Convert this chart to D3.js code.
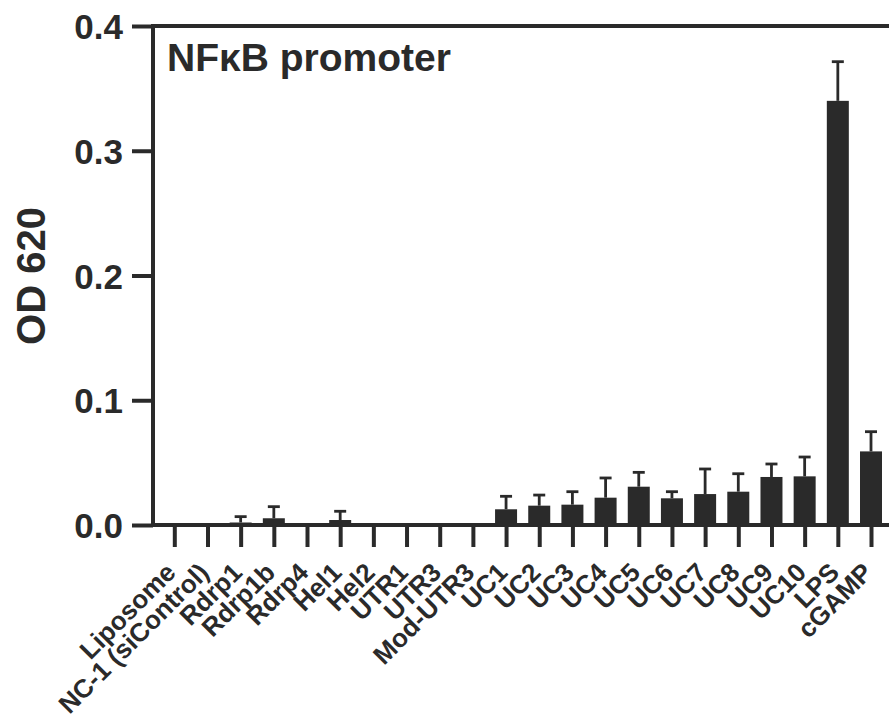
<html>
<head>
<style>
  body { margin: 0; background: #fff; }
  svg { position: absolute; top: 0; left: 0; font-family: "Liberation Sans", Arial, sans-serif; }
  .bar { fill: #2a2a2a; }
  .err { stroke: #2a2a2a; stroke-width: 2.8px; }
  .axisline { stroke: #2a2a2a; stroke-width: 4px; }
</style>
<script src="https://cdnjs.cloudflare.com/ajax/libs/d3/7.8.5/d3.min.js"></script>
</head>
<body>
<svg width="889" height="721"></svg>
<script>
// data
var categories = ["Liposome", "NC-1 (siControl)", "Rdrp1", "Rdrp1b", "Rdrp4", "Hel1", "Hel2",
  "UTR1", "UTR3", "Mod-UTR3", "UC1", "UC2", "UC3", "UC4", "UC5", "UC6", "UC7", "UC8",
  "UC9", "UC10", "LPS", "cGAMP"];
var means = [0, 0, 0.002, 0.0054, 0, 0.004, 0, 0, 0, 0, 0.0126, 0.0155, 0.0163, 0.0219,
  0.0307, 0.0214, 0.0248, 0.0267, 0.0385, 0.039, 0.34, 0.059];
var errors = [0, 0, 0.0047, 0.0093, 0, 0.007, 0, 0, 0, 0, 0.0104, 0.0085, 0.0104, 0.0158,
  0.0115, 0.0053, 0.0201, 0.0144, 0.0104, 0.0155, 0.0314, 0.0158];
var yTicks = [0, 0.1, 0.2, 0.3, 0.4];
var title = "NF\u03BAB promoter";
var yTitle = "OD 620";

var svg = d3.select("svg"),
    width = +svg.attr("width"),
    height = +svg.attr("height"),
    ink = "#2a2a2a";

var axisX = 153, baseY = 525, topY = 26;

var y = d3.scaleLinear().domain([0, 0.4]).range([baseY, topY]);
var x = d3.scalePoint().domain(categories).range([174.3, 871]);
var barW = 22, capW = 12;

var data = categories.map(function(c, i) { return {cat: c, mean: means[i], err: errors[i]}; });

// bars
svg.append("g").selectAll(".bar").data(data).enter().append("rect")
  .attr("class", "bar")
  .attr("x", function(d) { return x(d.cat) - barW / 2; })
  .attr("width", barW)
  .attr("y", function(d) { return y(d.mean); })
  .attr("height", function(d) { return baseY - y(d.mean); });

// error bars (upper only)
var eb = svg.append("g").selectAll(".eb").data(data.filter(function(d) { return d.err > 0; })).enter().append("g");
eb.append("line").attr("class", "err")
  .attr("x1", function(d) { return x(d.cat); })
  .attr("x2", function(d) { return x(d.cat); })
  .attr("y1", function(d) { return y(d.mean); })
  .attr("y2", function(d) { return y(d.mean + d.err); });
eb.append("line").attr("class", "err")
  .attr("x1", function(d) { return x(d.cat) - capW / 2; })
  .attr("x2", function(d) { return x(d.cat) + capW / 2; })
  .attr("y1", function(d) { return y(d.mean + d.err); })
  .attr("y2", function(d) { return y(d.mean + d.err); });

// y axis
var yAxis = d3.axisLeft(y).tickValues(yTicks).tickFormat(d3.format(".1f")).tickSize(21).tickPadding(9);
var gy = svg.append("g").attr("transform", "translate(" + axisX + ",0)").call(yAxis);
gy.select(".domain").remove();
gy.selectAll(".tick line").attr("stroke", ink).attr("stroke-width", 4);
gy.selectAll(".tick text").attr("fill", ink)
  .style("font-size", "35px").style("font-weight", "bold").attr("dy", "0.36em");

// frame lines
svg.append("line").attr("class", "axisline")
  .attr("x1", axisX).attr("x2", axisX).attr("y1", topY - 2).attr("y2", baseY + 2);
svg.append("line").attr("class", "axisline")
  .attr("x1", axisX).attr("x2", width).attr("y1", topY).attr("y2", topY);
svg.append("line").attr("class", "axisline")
  .attr("x1", axisX).attr("x2", width).attr("y1", baseY).attr("y2", baseY);

// x axis ticks and labels
var xAxis = d3.axisBottom(x).tickSize(22).tickFormat("");
var gx = svg.append("g").attr("transform", "translate(0," + baseY + ")").call(xAxis);
gx.select(".domain").remove();
gx.selectAll(".tick line").attr("stroke", ink).attr("stroke-width", 4);

svg.append("g").selectAll(".xlab").data(categories).enter().append("text")
  .attr("transform", function(d) { return "translate(" + (x(d) + 3) + ",574) rotate(-45)"; })
  .attr("text-anchor", "end")
  .attr("fill", ink)
  .style("font-size", "26px").style("font-weight", "bold")
  .text(function(d) { return d; });

// y title
svg.append("text")
  .attr("transform", "translate(45,276) rotate(-90)")
  .attr("text-anchor", "middle")
  .attr("fill", ink)
  .style("font-size", "40px").style("font-weight", "bold")
  .text(yTitle);

// panel title
svg.append("text")
  .attr("x", 167).attr("y", 71)
  .attr("fill", ink)
  .style("font-size", "39px").style("font-weight", "bold")
  .text(title);
</script>
</body>
</html>
